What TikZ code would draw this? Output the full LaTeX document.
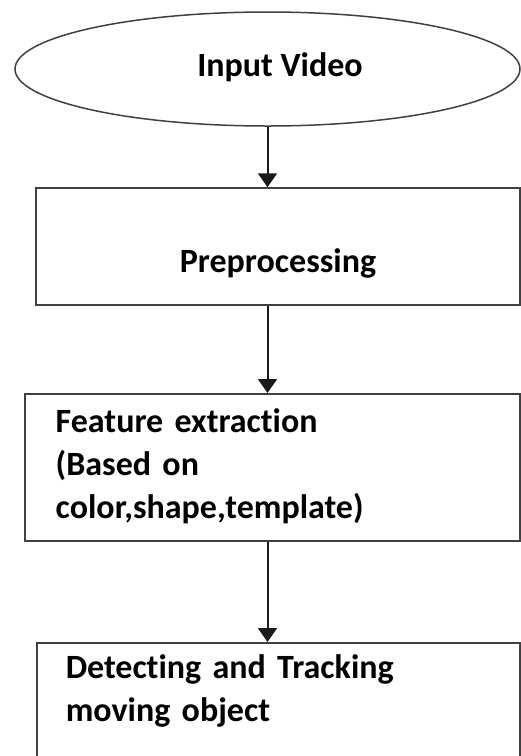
\documentclass[tikz,border=0pt]{standalone}
\usepackage{fontspec}
\setmainfont{Carlito}[Ligatures=NoCommon]
\usetikzlibrary{arrows.meta,shapes.geometric}

\tikzset{
    startnode/.style={ellipse, draw=black!75, line width=1.5pt, minimum width=505pt, minimum height=114pt, inner sep=0pt},
    stepbox/.style={rectangle, draw=black!75, line width=1.5pt, inner ysep=0pt},
    flowarrow/.style={-{Triangle[width=19pt,length=14pt]}, line width=2pt, draw=black!90, fill=black!90},
    txt/.style={font=\fontsize{34}{43}\selectfont\bfseries}
}

\begin{document}
\begin{tikzpicture}[x=1pt, y=-1pt]
    \useasboundingbox (0,0) rectangle (521,756);

    \node[startnode, txt] (input) at (267.5, 69) {\hspace*{25pt}\raisebox{9pt}{Input Video}};
    \node[stepbox, txt, minimum width=484pt, text height=84pt, text depth=33pt, anchor=base] (prep) at (278, 272) {Preprocessing};
    \node[stepbox, txt, text width=433pt, inner xsep=31pt, align=left, text height=39pt, text depth=108pt, anchor=north west] (feat) at (24, 393) {Feature extraction\\(Based on\\color,shape,template)};
    \node[stepbox, txt, text width=425pt, inner xsep=29pt, align=left, text height=36pt, text depth=110pt, anchor=north west] (track) at (36, 642) {Detecting and Tracking\\moving object};

    \draw[flowarrow] (input.south) -- (input.south |- prep.north);
    \draw[flowarrow] (input.south |- prep.south) -- (input.south |- feat.north);
    \draw[flowarrow] (input.south |- feat.south) -- (input.south |- track.north);
\end{tikzpicture}
\end{document}
